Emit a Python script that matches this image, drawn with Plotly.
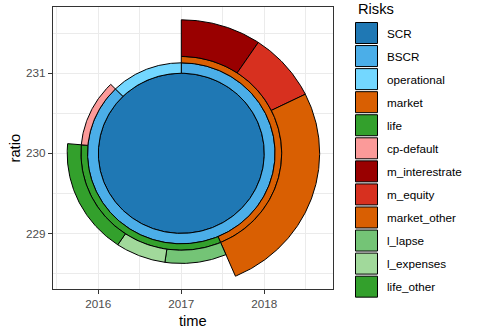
import numpy as np
import plotly.graph_objects as go

# ---- data ----
risks   = ["SCR", "BSCR", "operational", "market", "life", "cp-default",
           "m_interestrate", "m_equity", "market_other", "l_lapse", "l_expenses", "life_other"]
parents = ["", "SCR", "SCR", "BSCR", "BSCR", "BSCR",
           "market", "market", "market", "life", "life", "life"]
values  = [100.0, 87.6, 12.4, 43.6, 32.8, 11.2,
           9.4, 8.3, 25.9, 8.7, 7.1, 17.0]
colors  = ["#1F78B4", "#4BAEE8", "#73D7FF", "#D95F02", "#33A02C", "#FB9A99",
           "#990000", "#D7301F", "#D95F02", "#74C476", "#A1D99B", "#33A02C"]
center_time, center_ratio = 2017, 230
x_ticks = [2016, 2017, 2018]
y_ticks = [229, 230, 231]

# ---- geometry (layout constants) ----
ring_r = {0: (0.0, 1.0), 1: (1.0, 1.13), 2: (1.13, 1.21)}
outer_lvl3 = {"market": 1.667, "life": 1.375}
inner_lvl3 = 1.21

idx = {n: i for i, n in enumerate(risks)}
level = []
for p in parents:
    l = 0
    q = p
    while q:
        l += 1
        q = parents[idx[q]]
    level.append(l)

total = values[0]
start = [0.0] * len(risks)
span = [v / total * 360.0 for v in values]
cursor = {}
for i, p in enumerate(parents):
    if not p:
        continue
    s = cursor.get(p, start[idx[p]])
    start[i] = s
    cursor[p] = s + span[i]


def sector(r0, r1, a0, a1):
    n = max(int(abs(a1 - a0) * 2), 4)
    t = np.radians(np.linspace(a0, a1, n))
    xo = center_time + r1 * np.sin(t)
    yo = center_ratio + r1 * np.cos(t)
    if r0 <= 0 and abs(a1 - a0) >= 359.9:
        return list(xo), list(yo)
    xi = center_time + r0 * np.sin(t[::-1])
    yi = center_ratio + r0 * np.cos(t[::-1])
    x = list(xo) + list(xi) + [xo[0]]
    y = list(yo) + list(yi) + [yo[0]]
    return x, y


fig = go.Figure()
for i, name in enumerate(risks):
    lv = level[i]
    if lv < 3:
        r0, r1 = ring_r[lv]
    else:
        r0, r1 = inner_lvl3, outer_lvl3[parents[i]]
    x, y = sector(r0, r1, start[i], start[i] + span[i])
    fig.add_trace(go.Scatter(x=x, y=y, mode="lines", fill="toself",
                             fillcolor=colors[i], line=dict(color="black", width=1),
                             name=name, showlegend=False, hoverinfo="name"))

# ---- layout ----
W, H = 480, 336
L, R, T, B = 53, 333, 7, 289
FONT = "Liberation Sans, Arial, sans-serif"


def px_x(px):
    return (px - L) / (R - L)


def px_y(py):
    return (B - py) / (B - T)


axis_common = dict(showgrid=True, gridcolor="#EBEBEB", gridwidth=1.1,
                   zeroline=False, ticks="outside", ticklen=4, tickwidth=1.1,
                   tickcolor="#333333", showline=True, linecolor="#333333",
                   linewidth=1.1, mirror=True,
                   tickfont=dict(family=FONT, size=11.7, color="#4D4D4D"))

fig.update_layout(
    width=W, height=H, margin=dict(l=L, r=W - R, t=T, b=H - B),
    paper_bgcolor="white", plot_bgcolor="white", showlegend=False,
    xaxis=dict(range=[2015.454, 2018.828], tickvals=x_ticks,
               minor=dict(dtick=0.5, tick0=2015.5, showgrid=True,
                          gridcolor="#EBEBEB", gridwidth=0.55, ticks=""),
               **axis_common),
    yaxis=dict(range=[228.306, 231.827], tickvals=y_ticks,
               minor=dict(dtick=0.5, tick0=228.5, showgrid=True,
                          gridcolor="#EBEBEB", gridwidth=0.55, ticks=""),
               **axis_common),
)

ann = []
ann.append(dict(text="time", x=px_x(193), y=px_y(321), xref="paper", yref="paper",
                showarrow=False, xanchor="center", yanchor="middle",
                font=dict(family=FONT, size=14.7, color="black")))
ann.append(dict(text="ratio", x=px_x(14.5), y=px_y(148), xref="paper", yref="paper",
                showarrow=False, xanchor="center", yanchor="middle", textangle=-90,
                font=dict(family=FONT, size=14.7, color="black")))
ann.append(dict(text="Risks", x=px_x(355.5), y=px_y(9), xref="paper", yref="paper",
                showarrow=False, xanchor="left", yanchor="middle",
                font=dict(family=FONT, size=14.7, color="black")))

shapes = []
step = 23.06
for i, name in enumerate(risks):
    cy = 33 + step * i
    shapes.append(dict(type="rect", xref="paper", yref="paper",
                       x0=px_x(355.5), x1=px_x(377.5), y0=px_y(cy - 10.5), y1=px_y(cy + 10.5),
                       fillcolor=colors[i], line=dict(color="black", width=1)))
    ann.append(dict(text=name, x=px_x(385), y=px_y(cy), xref="paper", yref="paper",
                    showarrow=False, xanchor="left", yanchor="middle",
                    font=dict(family=FONT, size=11.7, color="black")))

fig.update_layout(annotations=ann, shapes=shapes)
fig.write_html("out.html")
